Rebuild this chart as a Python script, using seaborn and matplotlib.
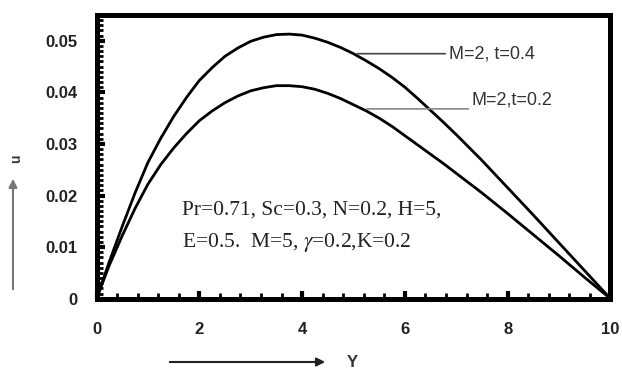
import numpy as np
import pandas as pd
import matplotlib
matplotlib.use("Agg")
import matplotlib.pyplot as plt
from matplotlib.ticker import MultipleLocator
import seaborn as sns

# ---- data ----
y_vals = [0, 0.25, 0.5, 0.75, 1.0, 1.25, 1.5, 1.75, 2.0, 2.25, 2.5, 2.75,
          3.0, 3.25, 3.5, 3.75, 4.0, 4.25, 4.5, 4.75, 5.0, 5.25, 5.5, 5.75,
          6.0, 6.25, 6.5, 6.75, 7.0, 7.25, 7.5, 8.0, 8.5, 9.0, 9.5, 10.0]
u_t04 = [0, 0.0072, 0.0140, 0.0205, 0.0264, 0.0311, 0.0353, 0.0390, 0.0423,
         0.0448, 0.0470, 0.0486, 0.0499, 0.0507, 0.0512, 0.0513, 0.0511,
         0.0505, 0.0497, 0.0487, 0.0475, 0.0461, 0.0446, 0.0429, 0.0410,
         0.0388, 0.0365, 0.0342, 0.0318, 0.0293, 0.0268, 0.0215, 0.0162,
         0.0108, 0.0054, 0]
u_t02 = [0, 0.0065, 0.0122, 0.0175, 0.0222, 0.0260, 0.0292, 0.0320, 0.0345,
         0.0364, 0.0380, 0.0393, 0.0403, 0.0409, 0.0413, 0.0413, 0.0411,
         0.0406, 0.0398, 0.0388, 0.0376, 0.0364, 0.0350, 0.0334, 0.0316,
         0.0298, 0.0280, 0.0262, 0.0243, 0.0224, 0.0205, 0.0165, 0.0124,
         0.0083, 0.0041, 0]
series_labels = ["M=2, t=0.4", "M=2,t=0.2"]
x_ticks = [0, 2, 4, 6, 8, 10]
y_ticks = [0, 0.01, 0.02, 0.03, 0.04, 0.05]
y_tick_labels = ["0", "0.01", "0.02", "0.03", "0.04", "0.05"]
param_line1 = "Pr=0.71, Sc=0.3, N=0.2, H=5,"
param_line2 = r"E=0.5.  M=5, $\gamma$=0.2,K=0.2"

df = pd.DataFrame({
    "Y": y_vals * 2,
    "u": u_t04 + u_t02,
    "case": [series_labels[0]] * len(y_vals) + [series_labels[1]] * len(y_vals),
})

sns.set_style("white")
plt.rcParams["font.family"] = ["Liberation Sans", "DejaVu Sans"]
plt.rcParams["mathtext.fontset"] = "stix"

W, H = 622, 369
fig = plt.figure(figsize=(W / 100, H / 100), dpi=100)
ax = fig.add_axes([96.5 / W, 1 - 298.7 / H, (610.5 - 96.5) / W, (298.7 - 15) / H])

sns.lineplot(data=df, x="Y", y="u", hue="case", palette=["black", "black"],
             linewidth=2.0, legend=False, ax=ax, sort=False)

ax.set_xlim(0, 10)
ax.set_ylim(0, 0.055)
ax.set_xticks(x_ticks)
ax.set_xticklabels([str(v) for v in x_ticks])
ax.set_yticks(y_ticks)
ax.set_yticklabels(y_tick_labels)
ax.xaxis.set_minor_locator(MultipleLocator(0.4))
ax.yaxis.set_minor_locator(MultipleLocator(0.001))
ax.set_xlabel("")
ax.set_ylabel("")

for s in ax.spines.values():
    s.set_visible(True)
    s.set_linewidth(3.6)
    s.set_color("black")

ax.tick_params(axis="both", which="both", bottom=True, left=True,
               top=False, right=False)
ax.tick_params(axis="both", which="major", direction="in", length=5.5, width=3,
               color="black", labelsize=12, labelcolor="#222222")
ax.tick_params(axis="both", which="minor", direction="in", length=4.5, width=2,
               color="black")
ax.tick_params(axis="x", which="both", pad=17)
ax.tick_params(axis="y", which="both", pad=14)
for lab in ax.get_xticklabels() + ax.get_yticklabels():
    lab.set_fontweight("bold")

# annotations with leader lines
ax.annotate(series_labels[0], xy=(5.07, 0.0475), xytext=(6.85, 0.0475),
            fontsize=13, color="#333333", va="center", ha="left",
            arrowprops=dict(arrowstyle="-", color="#444444", lw=1.2,
                            shrinkA=0, shrinkB=0))
ax.annotate(series_labels[1], xy=(5.26, 0.0368), xytext=(7.3, 0.0368),
            fontsize=13, color="#333333", va="bottom", ha="left",
            arrowprops=dict(arrowstyle="-", color="#888888", lw=1.2,
                            shrinkA=0, shrinkB=0, relpos=(0, 0)))

# parameter text
fig.text(182 / W, 1 - 210 / H, param_line1, family=["Liberation Serif", "DejaVu Serif"],
         fontsize=15.5, color="#222222", va="center", ha="left")
fig.text(182 / W, 1 - 242 / H, param_line2, family=["Liberation Serif", "DejaVu Serif"],
         fontsize=15.5, color="#222222", va="center", ha="left")

# axis labels with arrows
fig.text(16 / W, 1 - 159 / H, "u", rotation=90, fontsize=10, fontweight="bold",
         color="#333333", ha="center", va="center")
fig.patches.append(matplotlib.patches.FancyArrowPatch(
    (13 / W, 1 - 292 / H), (13 / W, 1 - 176 / H), transform=fig.transFigure,
    arrowstyle="-|>,head_length=5,head_width=2.5", color="#777777", lw=1.5))
fig.patches.append(matplotlib.patches.FancyArrowPatch(
    (167 / W, 1 - 362 / H), (328 / W, 1 - 362 / H), transform=fig.transFigure,
    arrowstyle="-|>,head_length=5,head_width=2.5", color="#222222", lw=1.5))
fig.text(352 / W, 1 - 355 / H, "Y", fontsize=12, fontweight="bold",
         color="#333333", ha="center", va="top")

fig.savefig("out.png", dpi=100)
